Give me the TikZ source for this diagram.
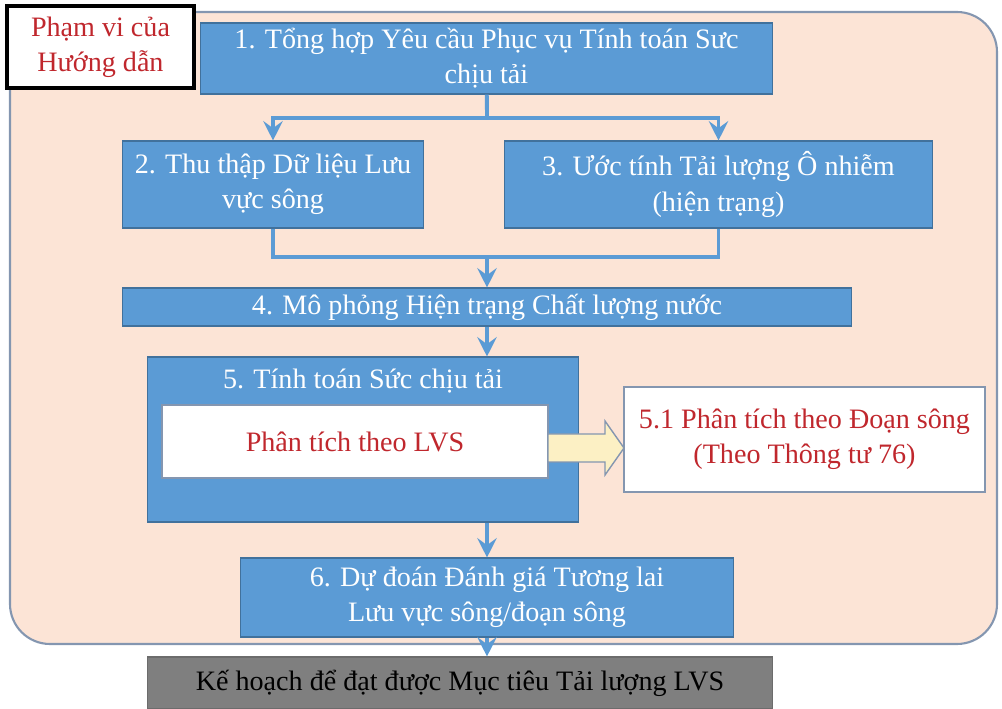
\documentclass[tikz,border=0pt]{standalone}
\usepackage{fontspec}
\setmainfont{Liberation Serif}
\usetikzlibrary{arrows.meta}
\definecolor{boxblue}{RGB}{91,155,213}
\definecolor{boxline}{RGB}{65,113,156}
\definecolor{peach}{RGB}{252,228,214}
\definecolor{frameline}{RGB}{132,150,176}
\definecolor{darkred}{RGB}{192,39,45}
\definecolor{plangray}{RGB}{127,127,127}
\definecolor{paleyellow}{RGB}{252,240,196}

\tikzset{
  stepbox/.style={draw=boxline, line width=0.6pt, fill=boxblue, text=white, align=center, inner sep=2pt},
  notebox/.style={draw=frameline, line width=0.8pt, fill=white, text=darkred, align=center, inner sep=2pt},
  flow/.style={draw=boxblue, line width=2.2pt, -{Stealth[length=11pt,width=11pt,inset=4pt]}},
  link/.style={draw=boxblue, line width=2.2pt},
}

\begin{document}
\begin{tikzpicture}[x=0.02cm, y=-0.02cm, font=\fontsize{16}{20}\selectfont]
\useasboundingbox (0,0) rectangle (1002,709);

 %frame:
 \draw[fill=peach, draw=frameline, line width=1.2pt, rounded corners=0.8cm] (10,12) rectangle (997,644);
 \node[draw=black, line width=1.8pt, fill=white, text=darkred, align=center, minimum width=3.74cm, minimum height=1.64cm] (guide) at (100.5,47) {Phạm vi của\\Hướng dẫn};

 %steps
 \node[stepbox, minimum width=11.46cm, minimum height=1.42cm] (box1) at (486.5,58.5) {1. Tổng hợp Yêu cầu Phục vụ Tính toán Sưc\\chịu tải};
 \node[stepbox, minimum width=6.04cm, minimum height=1.74cm] (box2) at (273,184.5) {2. Thu thập Dữ liệu Lưu\\vực sông};
 \node[stepbox, minimum width=8.58cm, minimum height=1.74cm] (box3) at (718.5,184.5) {3. Ước tính Tải lượng Ô nhiễm\\(hiện trạng)};
 \node[stepbox, minimum width=14.6cm, minimum height=0.76cm] (box4) at (487,307) {4. Mô phỏng Hiện trạng Chất lượng nước};
 \node[stepbox, minimum width=8.64cm, minimum height=3.3cm] (box5) at (363,439.5) {};
 \node[text=white] (title5) at ([yshift=-0.5cm]box5.north) {5. Tính toán Sức chịu tải};
 \node[notebox, minimum width=7.72cm, minimum height=1.46cm] (lvs) at (355,441.5) {Phân tích theo LVS};
 \node[notebox, minimum width=7.22cm, minimum height=2.1cm] (reach) at (804.5,439.5) {5.1 Phân tích theo Đoạn sông\\(Theo Thông tư 76)};
 \node[stepbox, minimum width=9.88cm, minimum height=1.58cm] (box6) at (487,597.5) {6. Dự đoán Đánh giá Tương lai\\Lưu vực sông/đoạn sông};
 \node[draw=plangray!85!black, line width=0.6pt, fill=plangray, text=black, minimum width=12.52cm, minimum height=1.04cm] (plan) at (460,683) {Kế hoạch để đạt được Mục tiêu Tải lượng LVS};

 %block arrow
 \draw[fill=paleyellow, draw=frameline, line width=0.8pt] (548,434) -- (605,434) -- (605,421) -- (624,448) -- (605,475) -- (605,462) -- (548,462) -- cycle;

 %connectors
 \coordinate (split) at (487,118);
 \coordinate (merge) at (487,257);
 \draw[link] (box1) -- (split);
 \draw[flow] (split) -| (box2);
 \draw[flow] (split) -| (box3);
 \draw[link] (box2) |- (merge);
 \draw[link] (box3) |- (merge);
 \draw[flow] (merge) -- (box4);
 \draw[flow] (box4.south) -- (box4.south |- box5.north);
 \draw[flow] (box6.north |- box5.south) -- (box6.north);
 \draw[flow] (box6.south) -- (box6.south |- plan.north);
\end{tikzpicture}
\end{document}
